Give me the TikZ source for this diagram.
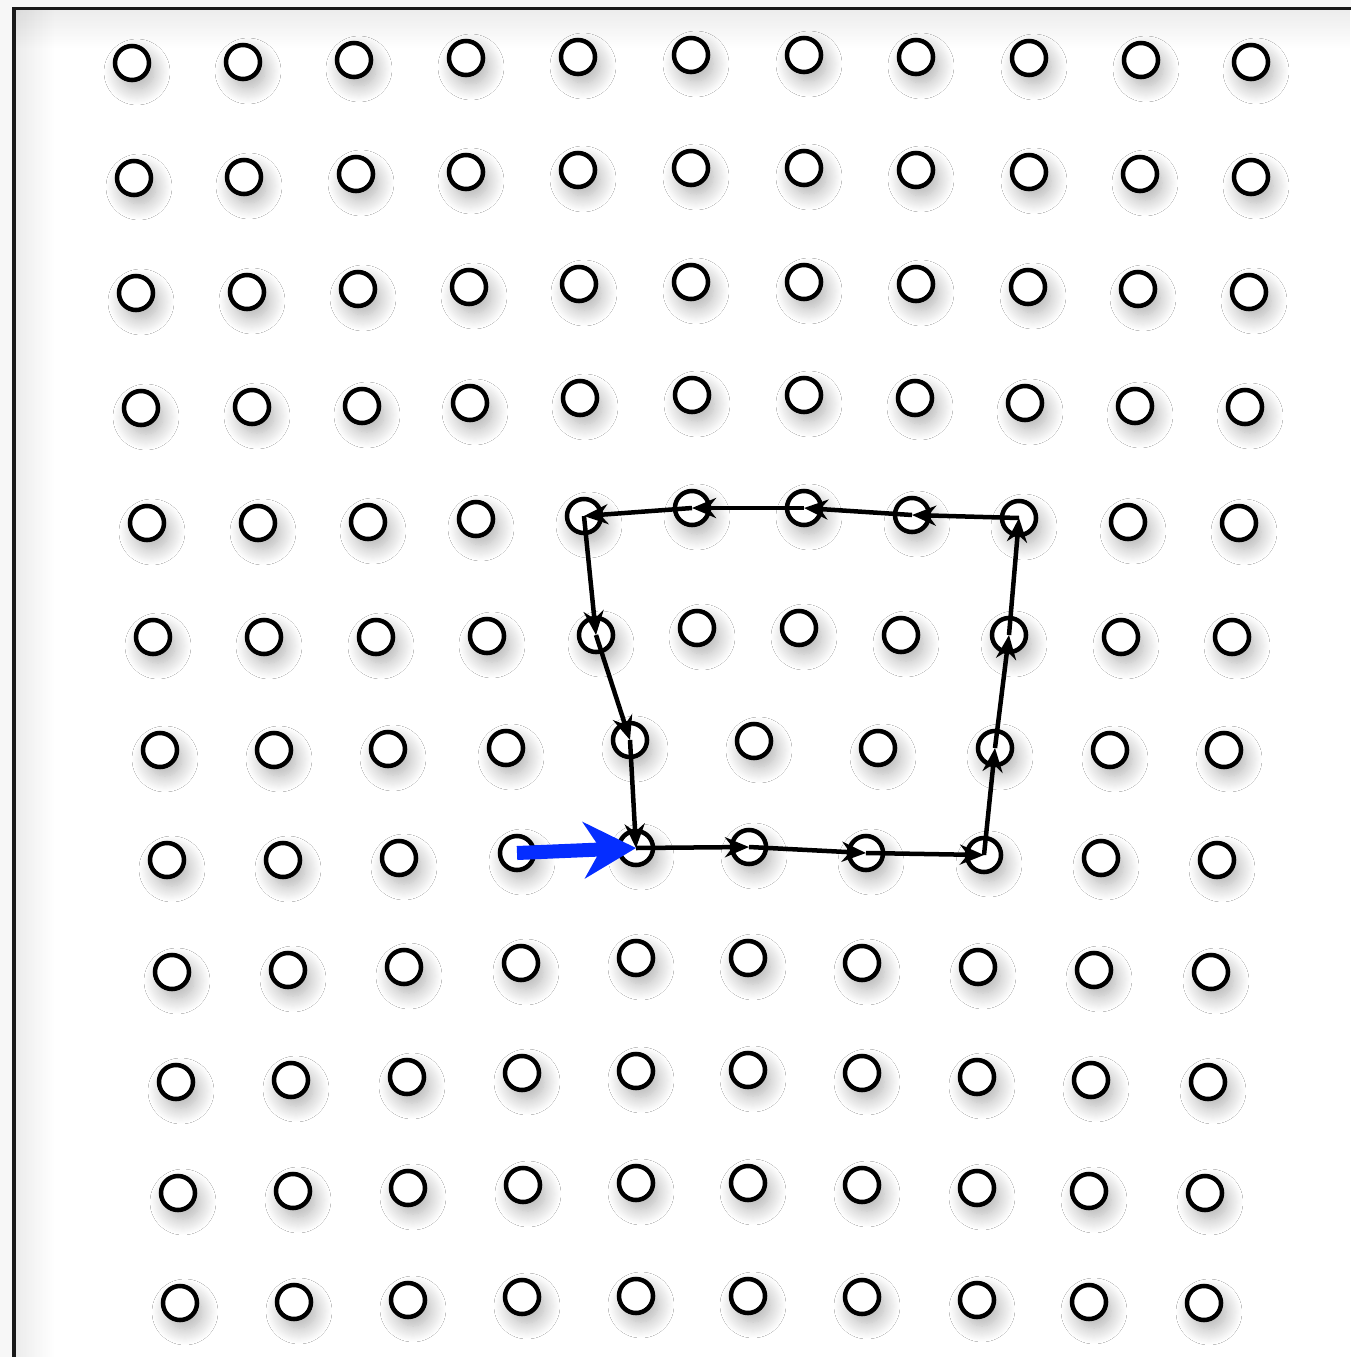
\documentclass[tikz,border=0pt]{standalone}
\usepackage{tikz}
\usetikzlibrary{arrows.meta,shadows.blur,fadings}
\definecolor{pushblue}{RGB}{5,45,255}

\begin{document}
\begin{tikzpicture}[
  x=0.01cm, y=-0.01cm,
  dot/.style={circle,draw,line width=0.045cm,fill=white,minimum size=0.34cm,inner sep=0pt,
    blur shadow={shadow xshift=0.05cm,shadow yshift=-0.09cm,shadow blur radius=0.16cm,
      shadow blur steps=16,shadow opacity=32}},
  link/.style={-{Stealth[length=0.24cm,width=0.2cm]},line width=0.045cm},
  push/.style={-{Stealth[length=0.52cm,width=0.56cm]},line width=0.14cm,draw=pushblue}
]
\useasboundingbox (0,0) rectangle (1351,1357);
% window frame
\fill[black!3] (0,0) rectangle (1351,1357);
\fill[white] (14,8) rectangle (1351,1357);
\fill[black,fill opacity=0.08,path fading=south] (14,8) rectangle (1351,48);
\fill[black,fill opacity=0.08,path fading=east] (14,8) rectangle (54,1357);
\draw[line width=0.03cm,black!90] (14,1357) -- (14,8) -- (1351,8);
% grid of sites, row by row
\foreach \x/\y [count=\c] in {132/63,243/62,354/60,466/58,578/57,691/55,804/55,916/57,1029/58,1141/60,1251/62}
  \node[dot] (p1-\c) at (\x,\y) {};
\foreach \x/\y [count=\c] in {134/178,244/177,356/174,466/172,578/170,691/168,804/168,916/170,1029/172,1140/174,1251/177}
  \node[dot] (p2-\c) at (\x,\y) {};
\foreach \x/\y [count=\c] in {136/293,247/292,358/289,469/287,579/284,691/282,804/282,916/284,1028/287,1138/289,1249/292}
  \node[dot] (p3-\c) at (\x,\y) {};
\foreach \x/\y [count=\c] in {141/408,252/407,362/406,470/403,580/398,692/395,804/395,915/398,1025/403,1135/406,1245/407}
  \node[dot] (p4-\c) at (\x,\y) {};
\foreach \x/\y [count=\c] in {147/523,258/523,368/522,476/519,584/516,692/508,804/508,912/515,1019/518,1128/522,1239/523}
  \node[dot] (p5-\c) at (\x,\y) {};
\foreach \x/\y [count=\c] in {153/637,264/637,376/637,487/636,596/635,697/628,799/628,901/635,1009/635,1121/637,1232/637}
  \node[dot] (p6-\c) at (\x,\y) {};
\foreach \x/\y [count=\c] in {160/750,274/750,388/749,506/748,630/740,754/741,878/748,995/748,1110/750,1224/750}
  \node[dot] (p7-\c) at (\x,\y) {};
\foreach \x/\y [count=\c] in {167/860,283/860,399/858,517/853,636/848,749/847,866/853,984/855,1101/858,1217/860}
  \node[dot] (p8-\c) at (\x,\y) {};
\foreach \x/\y [count=\c] in {172/972,288/970,404/967,521/963,636/958,748/958,862/963,978/967,1094/970,1211/972}
  \node[dot] (p9-\c) at (\x,\y) {};
\foreach \x/\y [count=\c] in {176/1082,291/1080,407/1077,522/1073,636/1071,748/1070,862/1073,977/1077,1091/1080,1208/1082}
  \node[dot] (p10-\c) at (\x,\y) {};
\foreach \x/\y [count=\c] in {178/1193,293/1191,408/1188,523/1185,636/1183,748/1183,862/1185,977/1188,1089/1191,1205/1193}
  \node[dot] (p11-\c) at (\x,\y) {};
\foreach \x/\y [count=\c] in {180/1303,294/1302,408/1300,522/1297,636/1296,748/1296,862/1297,977/1300,1089/1302,1204/1303}
  \node[dot] (p12-\c) at (\x,\y) {};
% the loop
\draw[link] (p8-5.center) -- (p8-6.center);
\draw[link] (p8-6.center) -- (p8-7.center);
\draw[link] (p8-7.center) -- (p8-8.center);
\draw[link] (p8-8.center) -- (p7-8.center);
\draw[link] (p7-8.center) -- (p6-9.center);
\draw[link] (p6-9.center) -- (p5-9.center);
\draw[link] (p5-9.center) -- (p5-8.center);
\draw[link] (p5-8.center) -- (p5-7.center);
\draw[link] (p5-7.center) -- (p5-6.center);
\draw[link] (p5-6.center) -- (p5-5.center);
\draw[link] (p5-5.center) -- (p6-5.center);
\draw[link] (p6-5.center) -- (p7-5.center);
\draw[link] (p7-5.center) -- (p8-5.center);
% entry
\draw[push] (p8-4.center) -- (p8-5.center);
\end{tikzpicture}
\end{document}
